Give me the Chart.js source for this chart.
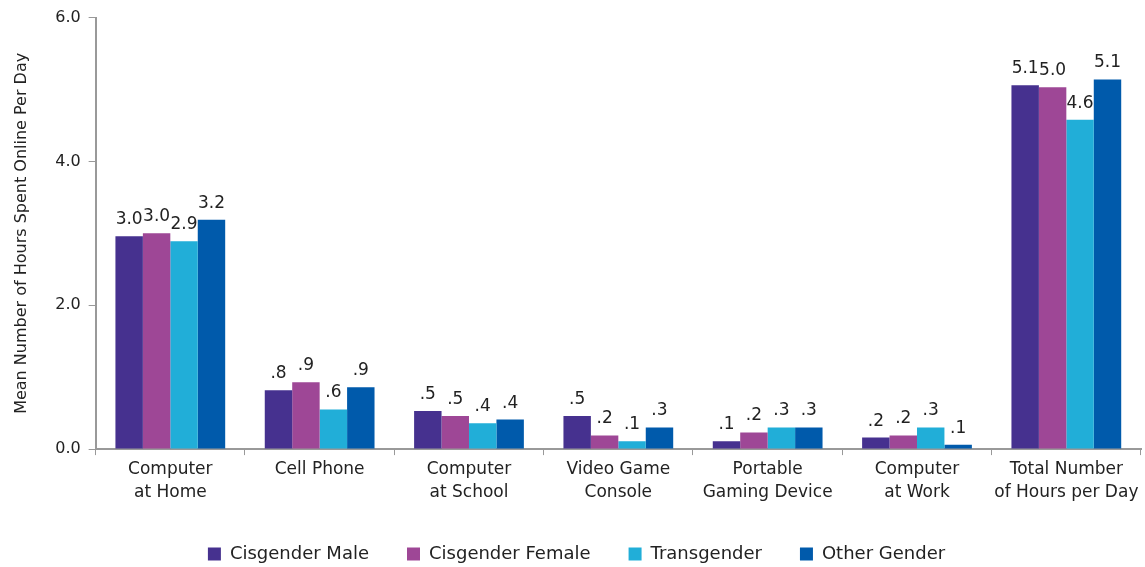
<!DOCTYPE html>
<html>
<head>
<meta charset="utf-8">
<script src="https://cdn.jsdelivr.net/npm/chart.js@4"></script>
<style>
  html, body { margin: 0; padding: 0; background: #fff; }
  #wrap { width: 1145px; height: 567px; }
</style>
</head>
<body>
<div id="wrap"><canvas id="chart"></canvas></div>
<script>
const categories = [
  ["Computer", "at Home"],
  ["Cell Phone"],
  ["Computer", "at School"],
  ["Video Game", "Console"],
  ["Portable", "Gaming Device"],
  ["Computer", "at Work"],
  ["Total Number", "of Hours per Day"]
];
const cisMale   = [2.96, 0.82, 0.53, 0.46, 0.11, 0.16, 5.06];
const cisFemale = [3.00, 0.93, 0.46, 0.19, 0.23, 0.19, 5.03];
const trans     = [2.89, 0.55, 0.36, 0.11, 0.30, 0.30, 4.58];
const other     = [3.19, 0.86, 0.41, 0.30, 0.30, 0.06, 5.14];
const yTicks = [0, 2, 4, 6];

const FONT = "'DejaVu Sans', 'Liberation Sans', Arial, sans-serif";

function fmt(v) {
  let s = v.toFixed(1);
  if (s.startsWith("0.") && v !== 0) s = s.slice(1);
  return s;
}

const valueLabels = {
  id: "valueLabels",
  afterDatasetsDraw(chart) {
    const ctx = chart.ctx;
    ctx.save();
    ctx.font = "17px " + FONT;
    ctx.fillStyle = "#222";
    ctx.textAlign = "center";
    ctx.textBaseline = "bottom";
    chart.data.datasets.forEach((ds, i) => {
      chart.getDatasetMeta(i).data.forEach((bar, j) => {
        ctx.fillText(fmt(ds.data[j]), bar.x, bar.y - 8);
      });
    });
    ctx.restore();
  }
};

new Chart(document.getElementById("chart"), {
  type: "bar",
  data: {
    labels: categories,
    datasets: [
      { label: "Cisgender Male", data: cisMale, backgroundColor: "#46318f" },
      { label: "Cisgender Female", data: cisFemale, backgroundColor: "#9e4796" },
      { label: "Transgender", data: trans, backgroundColor: "#21aed8" },
      { label: "Other Gender", data: other, backgroundColor: "#005aab" }
    ]
  },
  options: {
    responsive: true,
    maintainAspectRatio: false,
    animation: false,
    layout: { padding: { top: 0, right: 4, left: 12, bottom: -6 } },
    datasets: { bar: { categoryPercentage: 0.735, barPercentage: 1.0 } },
    plugins: {
      legend: {
        position: "bottom",
        labels: {
          font: { family: FONT, size: 18 },
          color: "#222",
          boxWidth: 13,
          boxHeight: 13,
          padding: 38
        }
      },
      tooltip: { enabled: false }
    },
    scales: {
      x: {
        grid: { display: true, drawOnChartArea: false, offset: true, color: "#999", tickLength: 6 },
        border: { color: "#999", width: 2 },
        ticks: { font: { family: FONT, size: 17, lineHeight: 1.35 }, color: "#222", padding: 3, maxRotation: 0 }
      },
      y: {
        min: 0,
        max: 6,
        afterBuildTicks(axis) { axis.ticks = yTicks.map(v => ({ value: v })); },
        grid: { drawOnChartArea: false, color: "#999", tickLength: 7 },
        border: { color: "#999", width: 2 },
        ticks: { font: { family: FONT, size: 16 }, color: "#222", padding: 8,
                 callback: v => v.toFixed(1) },
        title: { display: true, text: "Mean Number of Hours Spent Online Per Day",
                 font: { family: FONT, size: 16 }, color: "#222", padding: { top: 0, bottom: 16 } }
      }
    }
  },
  plugins: [valueLabels]
});
</script>
</body>
</html>
